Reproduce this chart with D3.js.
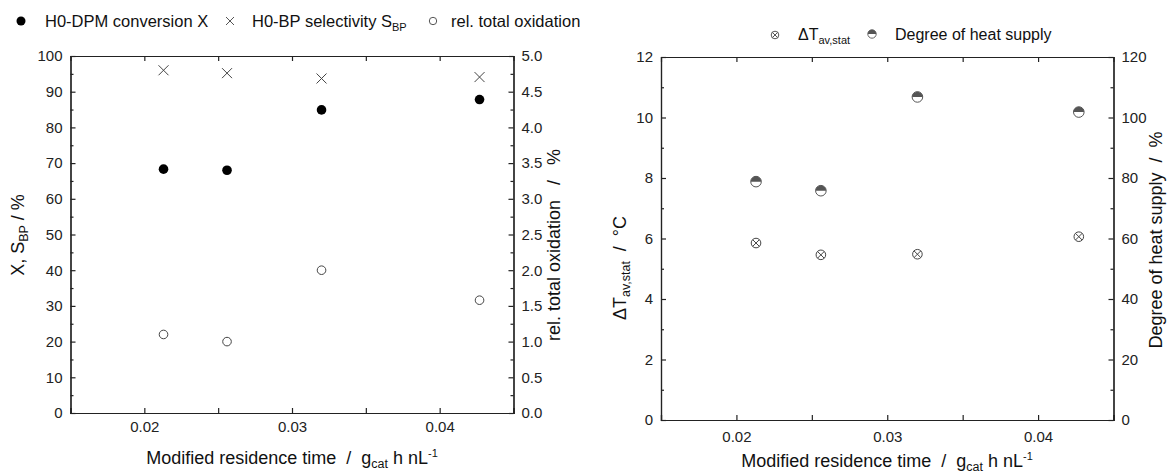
<!DOCTYPE html>
<html><head><meta charset="utf-8">
<script src="https://cdn.jsdelivr.net/npm/d3@7"></script>
<style>
body{margin:0;background:#fff;}
svg{display:block;font-family:Arial,"Liberation Sans",sans-serif;}
svg text{white-space:pre;}
.axis path,.axis line{stroke:#222;stroke-width:1.2;}
.axis text{font-size:15px;fill:#222;font-family:Arial,"Liberation Sans",sans-serif;}
</style></head>
<body>
<svg id="c" width="1169" height="474"></svg>
<script>
// ---------- data ----------
const residenceTime = [0.0213, 0.0256, 0.0320, 0.0427];
const conversionX = [68.3, 68.0, 84.9, 87.8];
const selectivitySBP = [96.0, 95.2, 93.7, 94.1];
const relTotalOxidation = [1.10, 1.00, 2.00, 1.58];
const deltaTavStat = [5.85, 5.46, 5.48, 6.06];
const heatSupply = [78.8, 75.8, 106.8, 101.8];
const xTicks = [0.02, 0.03, 0.04];
const xMinor = [0.025, 0.035];
const leftYTicks = [0,10,20,30,40,50,60,70,80,90,100];
const leftY2Ticks = [0,0.5,1,1.5,2,2.5,3,3.5,4,4.5,5];
const rightYTicks = [0,2,4,6,8,10,12];
const rightY2Ticks = [0,20,40,60,80,100,120];

const svg = d3.select("#c");
const TF = "18px", SUB = "12.5px";

function frame(g, x, y, yR, opt){
  const [x0,x1] = x.range(), [y0,y1] = y.range();
  g.append("g").attr("class","axis").attr("transform",`translate(0,${y0})`)
    .call(d3.axisBottom(x).tickValues(opt.xTicks).tickSize(-5).tickPadding(opt.xPad).tickFormat(d3.format(".2f")));
  g.append("g").attr("class","axis").attr("transform",`translate(0,${y0})`)
    .call(d3.axisBottom(x).tickValues(opt.xMinor).tickSize(-5).tickFormat(""));
  g.append("g").attr("class","axis").attr("transform",`translate(0,${y1})`)
    .call(d3.axisTop(x).tickValues(opt.xTicks.concat(opt.xMinor)).tickSize(-5).tickFormat(""));
  g.append("g").attr("class","axis").attr("transform",`translate(${x0},0)`)
    .call(d3.axisLeft(y).tickValues(opt.yTicks).tickSize(-5).tickPadding(8).tickFormat(opt.yFmt));
  g.append("g").attr("class","axis").attr("transform",`translate(${x0},0)`)
    .call(d3.axisLeft(y).tickValues(opt.yMinor).tickSize(-3).tickFormat(""));
  g.append("g").attr("class","axis").attr("transform",`translate(${x1},0)`)
    .call(d3.axisRight(yR).tickValues(opt.y2Ticks).tickSize(-5).tickPadding(8).tickFormat(opt.y2Fmt));
  g.append("g").attr("class","axis").attr("transform",`translate(${x1},0)`)
    .call(d3.axisRight(yR).tickValues(opt.y2Minor).tickSize(-3).tickFormat(""));
}

function xTitle(g, cx, yb){
  const t = g.append("text").attr("x",cx).attr("y",yb).attr("text-anchor","middle")
    .attr("font-size",TF).attr("fill","#111");
  t.append("tspan").text("Modified residence time  /  g");
  t.append("tspan").text("cat").attr("font-size",SUB).attr("dy",3.5);
  t.append("tspan").text(" h nL").attr("dy",-3.5);
  t.append("tspan").text("-1").attr("font-size","11px").attr("dy",-7);
}

// ---------- left plot ----------
const gL = svg.append("g");
const xL = d3.scaleLinear().domain([0.015,0.045]).range([70.5,513.5]);
const yL = d3.scaleLinear().domain([0,100]).range([413,56]);
const yL2 = d3.scaleLinear().domain([0,5]).range([413,56]);
frame(gL, xL, yL, yL2, {xTicks, xMinor, xPad:8,
  yTicks:leftYTicks, yMinor:d3.range(5,100,10), yFmt:d3.format("d"),
  y2Ticks:leftY2Ticks, y2Minor:d3.range(0.25,5,0.5), y2Fmt:d3.format(".1f")});

gL.selectAll("circle.conv").data(residenceTime).join("circle").attr("class","conv")
  .attr("cx",d=>xL(d)).attr("cy",(d,i)=>yL(conversionX[i])).attr("r",4.8).attr("fill","#000");
const xs = 5;
gL.selectAll("path.sel").data(residenceTime).join("path").attr("class","sel")
  .attr("d",(d,i)=>{const cx=xL(d),cy=yL(selectivitySBP[i]);return `M${cx-xs},${cy-xs}L${cx+xs},${cy+xs}M${cx-xs},${cy+xs}L${cx+xs},${cy-xs}`;})
  .attr("stroke","#444").attr("stroke-width",1).attr("fill","none");
gL.selectAll("circle.ox").data(residenceTime).join("circle").attr("class","ox")
  .attr("cx",d=>xL(d)).attr("cy",(d,i)=>yL2(relTotalOxidation[i])).attr("r",4.3)
  .attr("fill","#fff").attr("stroke","#444").attr("stroke-width",1);

gL.append("text").attr("transform","translate(24,235) rotate(-90)").attr("text-anchor","middle")
  .attr("font-size",TF).attr("fill","#111")
  .call(t=>{t.append("tspan").text("X, S");t.append("tspan").text("BP").attr("font-size",SUB).attr("dy",4);t.append("tspan").text(" / %").attr("dy",-4);});
gL.append("text").attr("transform","translate(560,245) rotate(-90)").attr("text-anchor","middle")
  .attr("font-size",TF).attr("fill","#111").text("rel. total oxidation   /   %");
xTitle(gL, 292, 464);

// legend left
const legL = svg.append("g").attr("font-size","16.5px").attr("fill","#111");
legL.append("circle").attr("cx",21).attr("cy",21).attr("r",4.5).attr("fill","#000");
legL.append("text").attr("x",45).attr("y",27).text("H0-DPM conversion X");
legL.append("path").attr("d","M226,17L234,25M226,25L234,17").attr("stroke","#555").attr("stroke-width",1);
const t2 = legL.append("text").attr("x",252).attr("y",27);
t2.append("tspan").text("H0-BP selectivity S");
t2.append("tspan").text("BP").attr("font-size","11px").attr("dy",4);
legL.append("circle").attr("cx",433).attr("cy",21).attr("r",3.7).attr("fill","#fff").attr("stroke","#555");
legL.append("text").attr("x",451).attr("y",27).text("rel. total oxidation");

// ---------- right plot ----------
const gR = svg.append("g");
const xR = d3.scaleLinear().domain([0.015,0.045]).range([661,1113.5]);
const yR = d3.scaleLinear().domain([0,12]).range([420,57]);
const yR2 = d3.scaleLinear().domain([0,120]).range([420,57]);
frame(gR, xR, yR, yR2, {xTicks, xMinor, xPad:11,
  yTicks:rightYTicks, yMinor:d3.range(1,12,2), yFmt:d3.format("d"),
  y2Ticks:rightY2Ticks, y2Minor:d3.range(10,120,20), y2Fmt:d3.format("d")});

const cr = 4.8;
gR.selectAll("g.dt").data(residenceTime).join("g").attr("class","dt")
  .attr("transform",(d,i)=>`translate(${xR(d)},${yR(deltaTavStat[i])})`)
  .each(function(){
    const g=d3.select(this);
    g.append("circle").attr("r",cr).attr("fill","#fff").attr("stroke","#444").attr("stroke-width",1);
    const k=cr*0.7;
    g.append("path").attr("d",`M${-k},${-k}L${k},${k}M${-k},${k}L${k},${-k}`).attr("stroke","#444").attr("stroke-width",1);
  });
const hr = 5.3;
gR.selectAll("g.hs").data(residenceTime).join("g").attr("class","hs")
  .attr("transform",(d,i)=>`translate(${xR(d)},${yR2(heatSupply[i])})`)
  .each(function(){
    const g=d3.select(this);
    g.append("circle").attr("r",hr).attr("fill","#fff").attr("stroke","#555").attr("stroke-width",1);
    g.append("path").attr("d",`M${-hr},0A${hr},${hr} 0 0 1 ${hr},0Z`).attr("fill","#555");
  });

gR.append("text").attr("transform","translate(626,268) rotate(-90)").attr("text-anchor","middle")
  .attr("font-size",TF).attr("fill","#111")
  .call(t=>{t.append("tspan").text("ΔT");t.append("tspan").text("av,stat").attr("font-size",SUB).attr("dy",4);t.append("tspan").text("  /  °C").attr("dy",-4);});
gR.append("text").attr("transform","translate(1162,240) rotate(-90)").attr("text-anchor","middle")
  .attr("font-size",TF).attr("fill","#111").text("Degree of heat supply  /  %");
xTitle(gR, 887, 467);

// legend right
const legR = svg.append("g").attr("font-size","16px").attr("fill","#111");
legR.append("g").attr("transform","translate(775,35)").call(g=>{
  g.append("circle").attr("r",3.8).attr("fill","#fff").attr("stroke","#555");
  g.append("path").attr("d","M-2.6,-2.6L2.6,2.6M-2.6,2.6L2.6,-2.6").attr("stroke","#555");
});
const t3 = legR.append("text").attr("x",798).attr("y",40);
t3.append("tspan").text("ΔT");
t3.append("tspan").text("av,stat").attr("font-size","11px").attr("dy",4);
legR.append("g").attr("transform","translate(872,34)").call(g=>{
  g.append("circle").attr("r",4.2).attr("fill","#fff").attr("stroke","#666");
  g.append("path").attr("d","M-4.2,0A4.2,4.2 0 0 1 4.2,0Z").attr("fill","#555");
});
legR.append("text").attr("x",895).attr("y",40).text("Degree of heat supply");
</script>
</body></html>
